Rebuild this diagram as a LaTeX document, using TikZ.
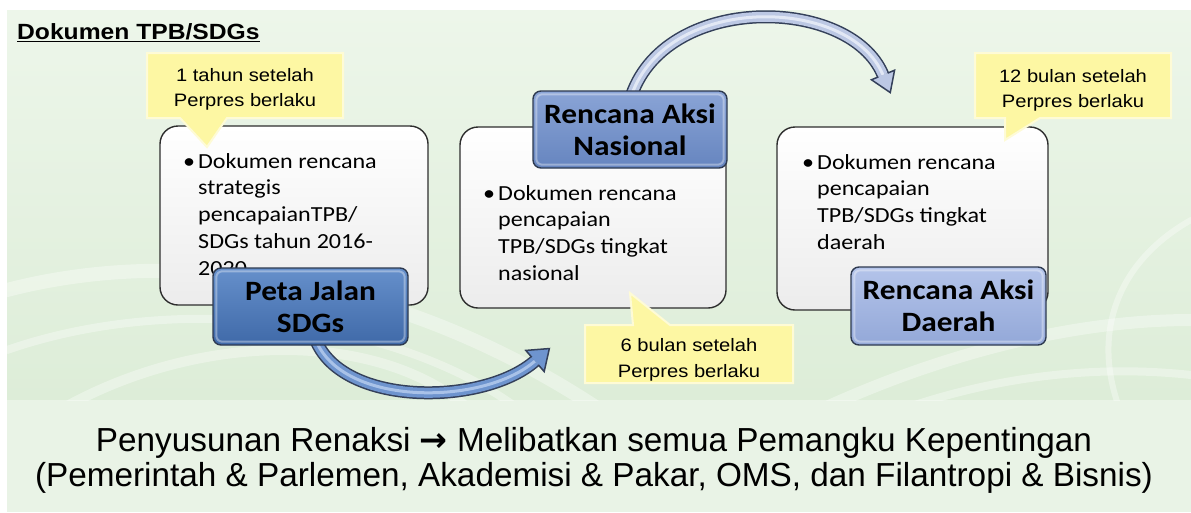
\documentclass[tikz,border=0pt]{standalone}
\usepackage{fontspec}
\newfontfamily\arialf[FakeStretch=1.12]{Liberation Sans}
\newfontfamily\arialn{Liberation Sans}
\newfontfamily\calf[FakeStretch=1.12]{Carlito}
\newfontfamily\dejavuf{DejaVu Sans}
\usetikzlibrary{calc}
\definecolor{bgtop}{HTML}{EDF6EA}
\definecolor{bgbot}{HTML}{DDEDD8}
\definecolor{bandc}{HTML}{E9F3E6}
\definecolor{boxline}{HTML}{2E2E2E}
\definecolor{boxbot}{HTML}{ECECEC}
\definecolor{labline}{HTML}{2E3A50}
\definecolor{lonetop}{HTML}{6690CB}
\definecolor{lonebot}{HTML}{3F69A8}
\definecolor{ltwotop}{HTML}{8AA4D6}
\definecolor{ltwobot}{HTML}{6685BF}
\definecolor{lthreetop}{HTML}{B4C4EA}
\definecolor{lthreebot}{HTML}{93A8D8}
\definecolor{calloutc}{HTML}{FDF7A3}
\definecolor{arrowout}{HTML}{34405A}
\definecolor{aonefill}{HTML}{6E94CE}
\definecolor{aonehi}{HTML}{A9C2E8}
\definecolor{atwofill}{HTML}{BCC8E4}
\definecolor{atwohi}{HTML}{E2E8F5}
\begin{document}
\begin{tikzpicture}[x=1pt,y=-1pt,
  docbox/.style={draw=boxline, line width=1.4pt, rounded corners=18pt,
    top color=white, bottom color=boxbot, inner sep=0pt},
  labbox/.style={draw=labline, line width=1.4pt, rounded corners=8pt,
    inner sep=0pt, align=center, font=\calf\bfseries\fontsize{28}{32}\selectfont},
  bevel/.style={white, opacity=0.35, line width=2pt, rounded corners=6pt},
  doctext/.style={anchor=base west, align=left, inner sep=0pt,
    font=\calf\fontsize{21.5}{26.8}\selectfont},
  callshape/.style={fill=calloutc, draw=white!55!calloutc, line width=2pt},
  calltext/.style={anchor=base, align=center, inner sep=0pt,
    font=\arialf\fontsize{18}{25.5}\selectfont},
  swirl/.style={white, opacity=0.35, line cap=round}
]
\useasboundingbox (0,0) rectangle (1191,512);
% background
\fill[white] (0,0) rectangle (1191,512);
\shade[top color=bgtop, bottom color=bgbot] (7,10) rectangle (1191,400);
\fill[bandc] (7,400) rectangle (1191,512);
% faint swirls
\begin{scope}
\clip (7,10) rectangle (1191,400);
\draw[swirl, line width=14pt] (7,290) .. controls (200,240) and (420,290) .. (600,410);
\draw[swirl, line width=8pt] (7,350) .. controls (180,290) and (400,320) .. (520,410);
\draw[swirl, line width=10pt] (60,410) .. controls (200,330) and (380,330) .. (470,410);
\draw[swirl, line width=12pt] (820,410) .. controls (950,350) and (1080,320) .. (1191,320);
\draw[swirl, line width=8pt] (900,410) .. controls (1000,375) and (1100,365) .. (1191,375);
\draw[swirl, line width=6pt] (1191,220) .. controls (1120,260) and (1090,330) .. (1120,410);
\end{scope}
% title
\node[anchor=base west, inner sep=0pt, font=\arialf\bfseries\fontsize{22}{24}\selectfont]
  (title) at (17,39) {\underline{Dokumen TPB/SDGs}};
% ---------- arrows (drawn under the labels) ----------
\coordinate (a1s) at (314,335);
\coordinate (a1c1) at (336,407);
\coordinate (a1c2) at (482,407);
\coordinate (a1e) at (535,361);
\draw[arrowout, line width=13pt] (a1s) .. controls (a1c1) and (a1c2) .. (a1e);
\draw[aonefill, line width=10pt] (a1s) .. controls (a1c1) and (a1c2) .. (a1e);
\draw[aonehi, line width=3pt] (a1s) .. controls (a1c1) and (a1c2) .. (a1e);
\coordinate (a1tip) at ($(a1e)!-19pt!(a1c2)$);
\filldraw[fill=aonefill, draw=arrowout, line width=1.5pt, line join=miter]
  ($(a1e)!5pt!90:(a1c2)$) -- ($(a1e)!14pt!90:(a1c2)$) -- (a1tip)
  -- ($(a1e)!14pt!-90:(a1c2)$) -- ($(a1e)!5pt!-90:(a1c2)$);
\coordinate (a2s) at (630,100);
\coordinate (a2c1) at (662,-8);
\coordinate (a2c2) at (850,-5);
\coordinate (a2e) at (883,75);
\draw[arrowout, line width=13pt] (a2s) .. controls (a2c1) and (a2c2) .. (a2e);
\draw[atwofill, line width=10pt] (a2s) .. controls (a2c1) and (a2c2) .. (a2e);
\draw[atwohi, line width=3pt] (a2s) .. controls (a2c1) and (a2c2) .. (a2e);
\coordinate (a2tip) at ($(a2e)!-19pt!(a2c2)$);
\filldraw[fill=atwofill, draw=arrowout, line width=1.5pt, line join=miter]
  ($(a2e)!5pt!90:(a2c2)$) -- ($(a2e)!12.5pt!90:(a2c2)$) -- (a2tip)
  -- ($(a2e)!12.5pt!-90:(a2c2)$) -- ($(a2e)!5pt!-90:(a2c2)$);
% white strip on top hides the arrow top edge
\fill[white] (0,0) rectangle (1191,9);
% ---------- column 1 ----------
\node[docbox, minimum width=268pt, minimum height=179pt] (b1) at (294,215.5) {};
\node[doctext] (t1) at (198,275.2)
  {\llap{•\hspace{3pt}}Dokumen rencana\\strategis\\pencapaianTPB/\\SDGs tahun 2016-\\2020};
\path[callshape] (147,53) -- (343,53) -- (343,118) -- (227,118) -- (207,147)
  -- (180,118) -- (147,118) -- cycle;
\node[calltext] (c1) at (245,106.5) {1 tahun setelah\\Perpres berlaku};
\node[labbox, top color=lonetop, bottom color=lonebot,
  minimum width=195pt, minimum height=77pt] (l1) at (310.5,306.5) {Peta Jalan\\SDGs};
\draw[bevel] ($(l1.north west)+(4,4)$) rectangle ($(l1.south east)+(-4,-4)$);
% ---------- column 2 ----------
\node[docbox, minimum width=266pt, minimum height=181pt] (b2) at (593,217.5) {};
\node[doctext] (t2) at (498,280.4)
  {\llap{•\hspace{3pt}}Dokumen rencana\\pencapaian\\TPB/SDGs tingkat\\nasional};
\node[labbox, top color=ltwotop, bottom color=ltwobot,
  minimum width=194pt, minimum height=77pt] (l2) at (630,129.5) {Rencana Aksi\\Nasional};
\draw[bevel] ($(l2.north west)+(4,4)$) rectangle ($(l2.south east)+(-4,-4)$);
\path[callshape] (585,325) -- (633,325) -- (630,293) -- (670,325) -- (793,325)
  -- (793,383) -- (585,383) -- cycle;
\node[calltext] (c2) at (689,377) {6 bulan setelah\\Perpres berlaku};
% ---------- column 3 ----------
\node[docbox, minimum width=271pt, minimum height=183pt] (b3) at (912.5,218.5) {};
\node[doctext] (t3) at (817,249.4)
  {\llap{•\hspace{3pt}}Dokumen rencana\\pencapaian\\TPB/SDGs tingkat\\daerah};
\node[labbox, top color=lthreetop, bottom color=lthreebot,
  minimum width=195pt, minimum height=78pt] (l3) at (948.5,306) {Rencana Aksi\\Daerah};
\draw[bevel] ($(l3.north west)+(4,4)$) rectangle ($(l3.south east)+(-4,-4)$);
\path[callshape] (975,53) -- (1171,53) -- (1171,118) -- (1040,118) -- (1005,140)
  -- (1005,118) -- (975,118) -- cycle;
\node[calltext] (c3) at (1073,107.5) {12 bulan setelah\\Perpres berlaku};
% ---------- bottom text ----------
\node[anchor=base, align=center, inner sep=0pt,
  font=\arialn\fontsize{33.3}{35}\selectfont] (bottom) at (594,486)
  {Penyusunan Renaksi {\dejavuf\bfseries →} Melibatkan semua Pemangku Kepentingan\\(Pemerintah \& Parlemen, Akademisi \& Pakar, OMS, dan Filantropi \& Bisnis)};
\end{tikzpicture}
\end{document}
